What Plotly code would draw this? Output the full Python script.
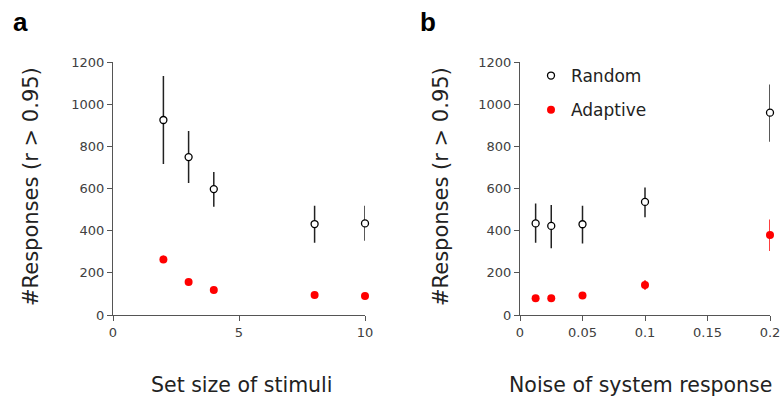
import plotly.graph_objects as go

# Panel a: set size of stimuli
set_size = [2, 3, 4, 8, 10]
rand_a = [926, 750, 598, 432, 435]
rand_a_hi = [1135, 874, 679, 519, 519]
rand_a_lo = [717, 627, 514, 343, 353]
adap_a = [264, 157, 119, 95, 90]
adap_a_hi = [282, 160, 122, 98, 93]
adap_a_lo = [252, 154, 116, 92, 87]

# Panel b: noise of system response
noise = [0.0125, 0.025, 0.05, 0.1, 0.2]
rand_b = [435, 423, 431, 537, 961]
rand_b_hi = [530, 522, 519, 606, 1095]
rand_b_lo = [343, 317, 340, 464, 823]
adap_b = [79, 79, 93, 142, 380]
adap_b_hi = [82, 82, 96, 165, 454]
adap_b_lo = [76, 76, 90, 120, 304]

x_ticks_a = [0, 5, 10]
x_ticks_b = [0, 0.05, 0.1, 0.15, 0.2]
x_tick_text_b = ["0", "0.05", "0.1", "0.15", "0.2"]
y_ticks = [0, 200, 400, 600, 800, 1000, 1200]

FONT = "DejaVu Sans"
fig = go.Figure()


def add_panel(x, r, rhi, rlo, a, ahi, alo, xa, ya, show):
    fig.add_trace(go.Scatter(
        x=x, y=r, mode="markers", name="Random", showlegend=show,
        legendgroup="r", xaxis=xa, yaxis=ya, cliponaxis=False,
        marker=dict(symbol="circle", size=7, color="white",
                    line=dict(color="black", width=1.3)),
        error_y=dict(type="data", symmetric=False,
                     array=[h - m for h, m in zip(rhi, r)],
                     arrayminus=[m - l for m, l in zip(r, rlo)],
                     color="#222222", thickness=1.5, width=0)))
    fig.add_trace(go.Scatter(
        x=x, y=a, mode="markers", name="Adaptive", showlegend=show,
        legendgroup="a", xaxis=xa, yaxis=ya, cliponaxis=False,
        marker=dict(symbol="circle", size=8, color="#ff0000",
                    line=dict(width=0)),
        error_y=dict(type="data", symmetric=False,
                     array=[h - m for h, m in zip(ahi, a)],
                     arrayminus=[m - l for m, l in zip(a, alo)],
                     color="#ff0000", thickness=1.5, width=0)))


add_panel(set_size, rand_a, rand_a_hi, rand_a_lo, adap_a, adap_a_hi, adap_a_lo, "x", "y", False)
add_panel(noise, rand_b, rand_b_hi, rand_b_lo, adap_b, adap_b_hi, adap_b_lo, "x2", "y2", True)

ydom = [(396 - 315) / 396, (396 - 62.3) / 396]
axis_common = dict(showline=True, linecolor="#555555", linewidth=1.3,
                   ticks="outside", ticklen=5, tickcolor="#555555", tickwidth=1.3,
                   showgrid=False, zeroline=False, automargin=False,
                   ticklabeloverflow="allow",
                   tickfont=dict(family=FONT, size=13, color="#404040"))

fig.update_layout(
    template="none",
    width=780, height=396,
    margin=dict(l=0, r=0, t=0, b=0, autoexpand=False),
    paper_bgcolor="white", plot_bgcolor="white",
    font=dict(family=FONT),
    xaxis=dict(domain=[113 / 780, 365 / 780], range=[0, 10], tickvals=x_ticks_a,
               anchor="y", **axis_common),
    yaxis=dict(domain=ydom, range=[0, 1200], tickvals=y_ticks, anchor="x", **axis_common),
    xaxis2=dict(domain=[520 / 780, 770 / 780], range=[0, 0.2], tickvals=x_ticks_b,
                ticktext=x_tick_text_b, anchor="y2", **axis_common),
    yaxis2=dict(domain=ydom, range=[0, 1200], tickvals=y_ticks, anchor="x2", **axis_common),
    legend=dict(x=531 / 780, y=(396 - 58) / 396, xanchor="left", yanchor="top",
                font=dict(family=FONT, size=17, color="#222222"),
                traceorder="grouped", tracegroupgap=9,
                bgcolor="rgba(0,0,0,0)", borderwidth=0, itemwidth=30),
    showlegend=True,
)

ann = [
    dict(text="<b>a</b>", x=11 / 780, y=(396 - 39) / 396, xanchor="left", yanchor="bottom",
         font=dict(family="Liberation Sans", size=26, color="black")),
    dict(text="<b>b</b>", x=418 / 780, y=(396 - 39) / 396, xanchor="left", yanchor="bottom",
         font=dict(family="Liberation Sans", size=26, color="black")),
    dict(text="#Responses (r > 0.95)", x=31 / 780, y=(396 - 187) / 396, textangle=-90,
         xanchor="center", yanchor="middle", font=dict(family=FONT, size=21, color="#222222")),
    dict(text="#Responses (r > 0.95)", x=441 / 780, y=(396 - 187) / 396, textangle=-90,
         xanchor="center", yanchor="middle", font=dict(family=FONT, size=21, color="#222222")),
    dict(text="Set size of stimuli", x=242 / 780, y=(396 - 385) / 396,
         xanchor="center", yanchor="middle", font=dict(family=FONT, size=20.5, color="#222222")),
    dict(text="Noise of system response", x=640 / 780, y=(396 - 385) / 396,
         xanchor="center", yanchor="middle", font=dict(family=FONT, size=20.5, color="#222222")),
]
for a in ann:
    a.update(xref="paper", yref="paper", showarrow=False)
fig.update_layout(annotations=ann)

fig.write_html("out.html")
